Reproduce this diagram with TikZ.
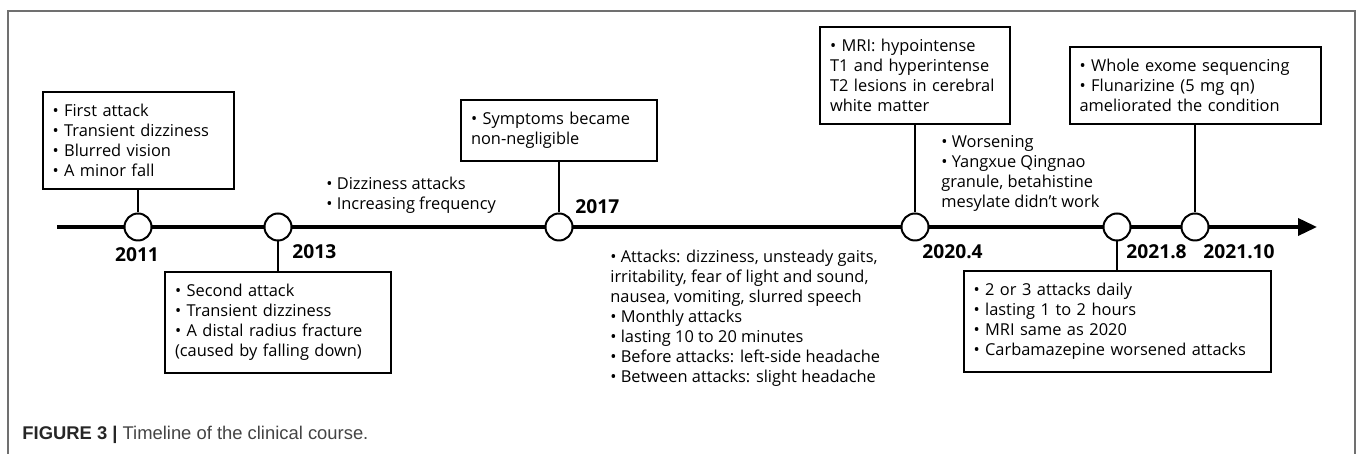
\documentclass[tikz,border=0pt]{standalone}
\usepackage{fontspec}
\setmainfont{Open Sans}
\newfontfamily\capfont{Liberation Sans}
\usetikzlibrary{arrows.meta, positioning}
\definecolor{framegray}{HTML}{707070}
\definecolor{capgray}{HTML}{444444}
\newcommand{\evfont}{\fontsize{8.2}{10}\selectfont\hyphenpenalty=10000\exhyphenpenalty=10000}
\newcommand{\yrfont}{\fontsize{9.6}{10}\selectfont\bfseries}

\begin{document}
\begin{tikzpicture}[x=0.5pt, y=0.5pt,
    evbox/.style={draw, line width=1pt, fill=white, align=left, inner xsep=5pt, inner ysep=6.2pt, font=\evfont},
    evtext/.style={align=left, inner sep=0pt, font=\evfont},
    yrlabel/.style={inner sep=0pt, font=\yrfont},
    knot/.style={circle, draw, line width=1pt, fill=white, minimum size=13.5pt, inner sep=0pt},
    stem/.style={line width=1pt}]
  \useasboundingbox (0,0) rectangle (1360,454);
  \draw[framegray, line width=0.8pt] (8,0) -- (8,443) -- (1355,443) -- (1355,0);

  \coordinate (start) at (57,227);
  \coordinate (end) at (1317,227);
  \draw[line width=1.8pt, -{Triangle[length=9.5pt,width=8.5pt]}] (start) -- (end);

  \node[knot] (c2011) at (138,227) {};
  \node[knot] (c2013) at (278,227) {};
  \node[knot] (c2017) at (559,227) {};
  \node[knot] (c2020) at (915,227) {};
  \node[knot] (c2108) at (1117,227) {};
  \node[knot] (c2110) at (1195,227) {};

  \node[evbox, text width=85.5pt, anchor=south] (b2011) at (138,264)
    {• First attack\\• Transient dizziness\\• Blurred vision\\• A minor fall};
  \node[evbox, text width=103pt, anchor=north] (b2013) at (278,183)
    {• Second attack\\• Transient dizziness\\• A distal radius fracture\\(caused by falling down)};
  \node[evbox, text width=88pt, anchor=south] (b2017) at (559,292)
    {• Symptoms became\\non-negligible};
  \node[evbox, text width=85pt, anchor=south] (b2020) at (915,329)
    {• MRI: hypointense\\T1 and hyperintense\\T2 lesions in cerebral\\white matter};
  \node[evbox, text width=143.5pt, anchor=north] (b2108) at (1117,184)
    {• 2 or 3 attacks daily\\• lasting 1 to 2 hours\\• MRI same as 2020\\• Carbamazepine worsened attacks};
  \node[evbox, text width=115.5pt, anchor=south] (b2110) at (1195,329)
    {• Whole exome sequencing\\• Flunarizine (5 mg qn)\\ameliorated the condition};

  \draw[stem] (b2011.south) -- (c2011.north);
  \draw[stem] (c2013.south) -- (b2013.north);
  \draw[stem] (b2017.south) -- (c2017.north);
  \draw[stem] (b2020.south) -- (c2020.north);
  \draw[stem] (c2108.south) -- (b2108.north);
  \draw[stem] (b2110.south) -- (c2110.north);

  \node[evtext, anchor=west] (t2013) at (326,259)
    {• Dizziness attacks\\• Increasing frequency};
  \node[evtext, anchor=west] (t2017) at (610,136)
    {• Attacks: dizziness, unsteady gaits,\\irritability, fear of light and sound,\\nausea, vomiting, slurred speech\\• Monthly attacks\\• lasting 10 to 20 minutes\\• Before attacks: left-side headache\\• Between attacks: slight headache};
  \node[evtext, anchor=west] (t2020) at (941,281)
    {• Worsening\\• Yangxue Qingnao\\granule, betahistine\\mesylate didn't work};

  \node[yrlabel] (l2011) at (137,199) {2011};
  \node[yrlabel, anchor=west] (l2013) at (292,202) {2013};
  \node[yrlabel, anchor=west] (l2017) at (575,247) {2017};
  \node[yrlabel, anchor=west] (l2020) at (922,202) {2020.4};
  \node[yrlabel, anchor=west] (l2108) at (1126,202) {2021.8};
  \node[yrlabel, anchor=west] (l2110) at (1203,202) {2021.10};

  \node[anchor=base west, inner sep=0pt, font=\capfont\fontsize{9.2}{11}\selectfont] (caption) at (22,14)
    {\textcolor{black!85}{\textbf{FIGURE 3 |}} \textcolor{capgray}{Timeline of the clinical course.}};
\end{tikzpicture}
\end{document}
